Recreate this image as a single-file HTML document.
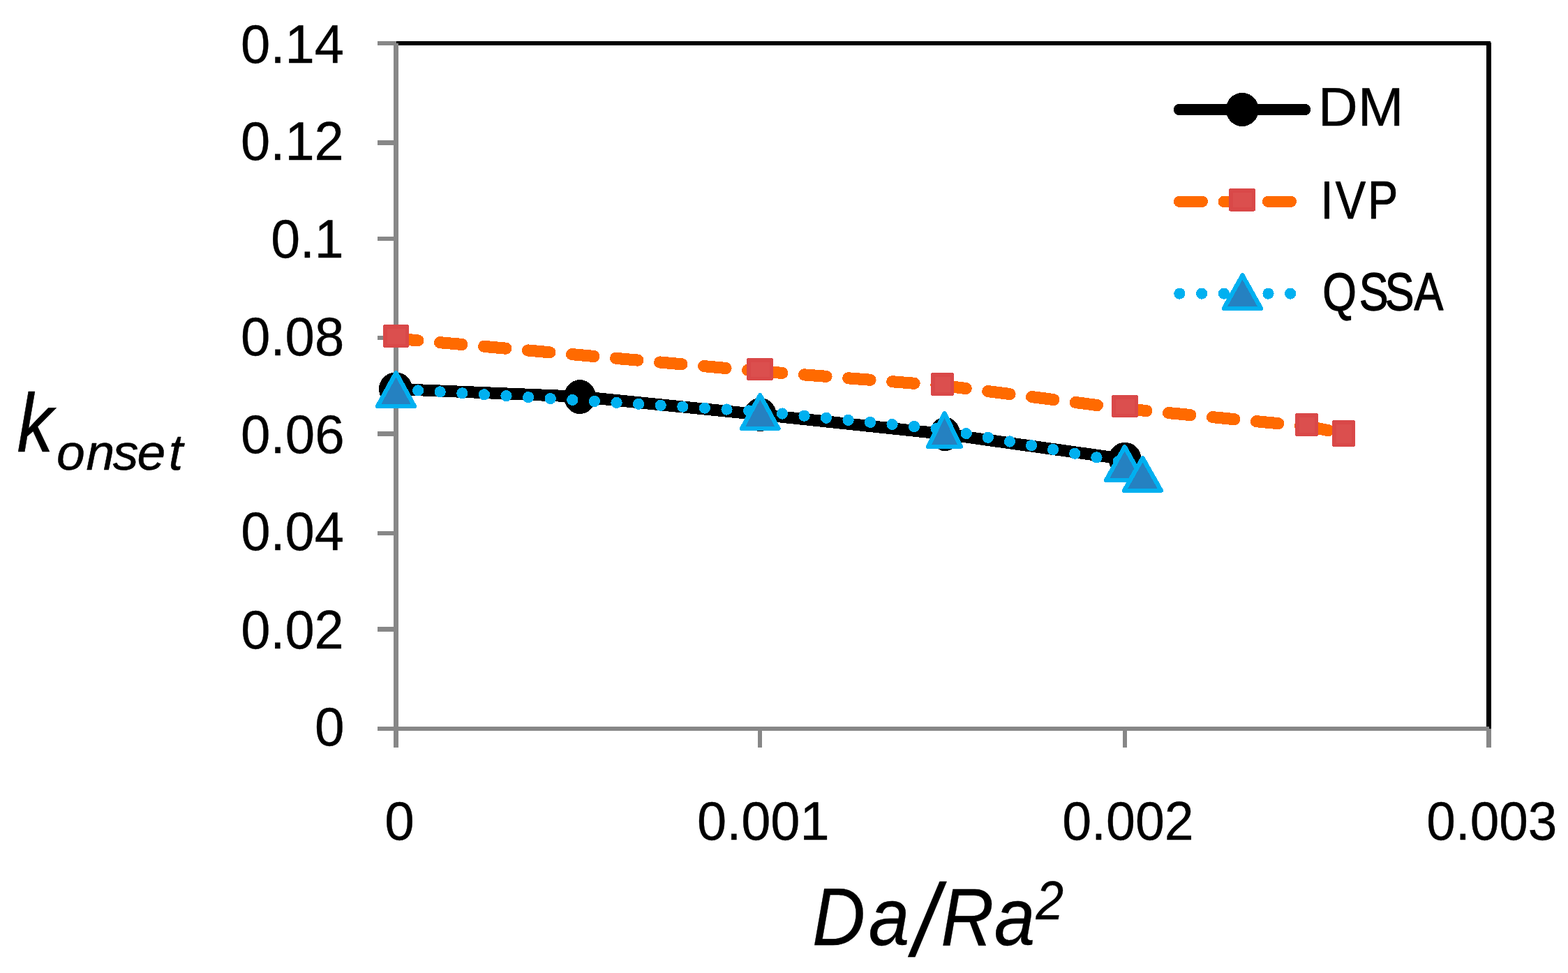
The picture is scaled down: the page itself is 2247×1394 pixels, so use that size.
<!DOCTYPE html>
<html lang="en"><head><meta charset="utf-8"><title>k_onset vs Da/Ra^2</title>
<style>html,body{margin:0;padding:0;background:#fff}body{width:2247px;height:1394px;overflow:hidden}svg{display:block}text{font-family:"Liberation Sans",Arial,sans-serif;fill:#000}</style>
</head><body>
<svg width="2247" height="1394" viewBox="0 0 2247 1394">
<rect width="2247" height="1394" fill="#fff"/>
<!-- plot frame, axes and tick marks -->
<g id="axes" shape-rendering="crispEdges">
<rect x="2130" y="61" width="7" height="983" fill="#000"/>
<rect x="541" y="59" width="27" height="6" fill="#878787"/>
<rect x="568" y="59" width="1568" height="6" fill="#000"/>
<rect x="564" y="62" width="7" height="1009" fill="#878787"/>
<rect x="541" y="1041" width="1593" height="6" fill="#878787"/>
<rect x="541" y="201" width="25" height="7" fill="#878787"/>
<rect x="541" y="339" width="25" height="6" fill="#878787"/>
<rect x="541" y="481" width="25" height="6" fill="#878787"/>
<rect x="541" y="618" width="25" height="7" fill="#878787"/>
<rect x="541" y="761" width="25" height="6" fill="#878787"/>
<rect x="541" y="898" width="25" height="7" fill="#878787"/>
<rect x="1086" y="1044" width="6" height="27" fill="#878787"/>
<rect x="1609" y="1044" width="6" height="27" fill="#878787"/>
<rect x="2130" y="1044" width="7" height="27" fill="#878787"/>
</g>
<!-- data series: DM (black circles), IVP (orange dashed, red squares), QSSA (blue dotted, triangles) -->
<g id="series" shape-rendering="crispEdges">
<line x1="567.5" y1="557.4" x2="831" y2="568.3" stroke="#000" stroke-width="17" stroke-linecap="round"/>
<line x1="831" y1="568.3" x2="1089.5" y2="594" stroke="#000" stroke-width="17" stroke-linecap="round"/>
<line x1="1089.5" y1="594" x2="1354" y2="621.8" stroke="#000" stroke-width="17" stroke-linecap="round"/>
<line x1="1354" y1="621.8" x2="1611.7" y2="657.8" stroke="#000" stroke-width="17" stroke-linecap="round"/>
<ellipse cx="567.1" cy="557.4" rx="24.1" ry="24" fill="#000"/>
<ellipse cx="831" cy="568.55" rx="22.9" ry="24.45" fill="#000"/>
<ellipse cx="1089.5" cy="594" rx="23" ry="24" fill="#000"/>
<ellipse cx="1354.15" cy="621.85" rx="21.85" ry="24.25" fill="#000"/>
<ellipse cx="1612.05" cy="657.8" rx="23.55" ry="24" fill="#000"/>
<line x1="567.5" y1="485" x2="1089.5" y2="531.9" stroke="#FF6A00" stroke-width="17.1" stroke-linecap="round" stroke-dasharray="31.5 31.77"/>
<line x1="1089.5" y1="531.9" x2="1353" y2="552.6" stroke="#FF6A00" stroke-width="17.1" stroke-linecap="round" stroke-dasharray="31.5 31.77"/>
<line x1="1353" y1="552.6" x2="1611.5" y2="585.5" stroke="#FF6A00" stroke-width="17.1" stroke-linecap="round" stroke-dasharray="31.5 31.77"/>
<line x1="1611.5" y1="585.5" x2="1872.5" y2="610.6" stroke="#FF6A00" stroke-width="17.1" stroke-linecap="round" stroke-dasharray="31.5 31.77"/>
<line x1="1872.5" y1="610.6" x2="1925.5" y2="621" stroke="#FF6A00" stroke-width="17.1" stroke-linecap="round" stroke-dasharray="31.5 31.77"/>
<rect x="549" y="465" width="37" height="33" rx="2.5" fill="#D94848"/>
<rect x="554.5" y="470.5" width="26" height="22" fill="#DB4F4E"/>
<rect x="1070" y="513" width="38" height="32" rx="2.5" fill="#D94848"/>
<rect x="1075.5" y="518.5" width="27" height="21" fill="#DB4F4E"/>
<rect x="1334" y="534" width="33" height="33" rx="2.5" fill="#D94848"/>
<rect x="1339.5" y="539.5" width="22" height="22" fill="#DB4F4E"/>
<rect x="1593" y="566" width="38" height="32" rx="2.5" fill="#D94848"/>
<rect x="1598.5" y="571.5" width="27" height="21" fill="#DB4F4E"/>
<rect x="1856" y="592" width="33" height="33" rx="2.5" fill="#D94848"/>
<rect x="1861.5" y="597.5" width="22" height="22" fill="#DB4F4E"/>
<rect x="1909" y="602" width="33" height="38" rx="2.5" fill="#D94848"/>
<rect x="1914.5" y="607.5" width="22" height="27" fill="#DB4F4E"/>
<line x1="567.5" y1="557.5" x2="1089.5" y2="589.5" stroke="#00B0F0" stroke-width="16.2" stroke-linecap="round" stroke-dasharray="0.01 31.65"/>
<line x1="1089.5" y1="589.5" x2="1353.5" y2="615.3" stroke="#00B0F0" stroke-width="16.2" stroke-linecap="round" stroke-dasharray="0.01 31.65"/>
<line x1="1353.5" y1="615.3" x2="1611.7" y2="662.8" stroke="#00B0F0" stroke-width="16.2" stroke-linecap="round" stroke-dasharray="0.01 31.65"/>
<line x1="1611.7" y1="662.8" x2="1637.5" y2="679" stroke="#00B0F0" stroke-width="16.2" stroke-linecap="round" stroke-dasharray="0.01 31.65"/>
<polygon points="567.5,534.025 593.875,581.875 541.125,581.875" fill="#2581C1" stroke="#00B0F0" stroke-width="6.25" stroke-linejoin="round"/>
<polygon points="1089.25,566.125 1115.38,613.875 1063.12,613.875" fill="#2581C1" stroke="#00B0F0" stroke-width="6.25" stroke-linejoin="round"/>
<polygon points="1353.5,592.025 1376.88,639.875 1330.12,639.875" fill="#2581C1" stroke="#00B0F0" stroke-width="6.25" stroke-linejoin="round"/>
<polygon points="1611.7,640.025 1638.28,687.875 1585.12,687.875" fill="#2581C1" stroke="#00B0F0" stroke-width="6.25" stroke-linejoin="round"/>
<polygon points="1637.45,656.125 1663.88,702.775 1611.03,702.775" fill="#2581C1" stroke="#00B0F0" stroke-width="6.25" stroke-linejoin="round"/>
</g>
<!-- legend keys -->
<g id="legend" shape-rendering="crispEdges">
<line x1="1690" y1="157" x2="1870" y2="157" stroke="#000" stroke-width="16.4" stroke-linecap="round"/>
<ellipse cx="1780.2" cy="156.95" rx="23.5" ry="24.05" fill="#000"/>
<line x1="1690" y1="288.9" x2="1870" y2="288.9" stroke="#FF6A00" stroke-width="16" stroke-linecap="round" stroke-dasharray="33 30.5"/>
<rect x="1761" y="270" width="38" height="32.6" rx="2.5" fill="#D94848"/>
<rect x="1766.5" y="275.5" width="27" height="21.6" fill="#DB4F4E"/>
<line x1="1690.4" y1="420.6" x2="1870" y2="420.6" stroke="#00B0F0" stroke-width="16.2" stroke-linecap="round" stroke-dasharray="0.01 31.75"/>
<polygon points="1780.45,394.325 1807.08,441.875 1753.83,441.875" fill="#2581C1" stroke="#00B0F0" stroke-width="6.25" stroke-linejoin="round"/>
</g>
<!-- tick labels, legend labels and axis titles -->
<g id="labels">
<text transform="scale(0.9778 1)" x="352.97" y="90.22" font-size="77.75" stroke="#000" stroke-width="0.389" stroke-linejoin="round">0.14</text>
<text transform="scale(0.9794 1)" x="352.39" y="229.23" font-size="77.46" stroke="#000" stroke-width="0.387" stroke-linejoin="round">0.12</text>
<text transform="scale(0.9689 1)" x="400.63" y="369.32" font-size="77.61" stroke="#000" stroke-width="0.388" stroke-linejoin="round">0.1</text>
<text transform="scale(0.9812 1)" x="351.73" y="509.32" font-size="77.61" stroke="#000" stroke-width="0.388" stroke-linejoin="round">0.08</text>
<text transform="scale(0.9833 1)" x="350.99" y="649.32" font-size="77.61" stroke="#000" stroke-width="0.388" stroke-linejoin="round">0.06</text>
<text transform="scale(0.9814 1)" x="351.69" y="788.23" font-size="77.46" stroke="#000" stroke-width="0.387" stroke-linejoin="round">0.04</text>
<text transform="scale(0.9777 1)" x="353.03" y="929.32" font-size="77.61" stroke="#000" stroke-width="0.388" stroke-linejoin="round">0.02</text>
<text transform="scale(0.9857 1)" x="457.57" y="1068.12" font-size="77.61" stroke="#000" stroke-width="0.388" stroke-linejoin="round">0</text>
<text transform="scale(0.9875 1)" x="558.11" y="1203.23" font-size="77.46" stroke="#000" stroke-width="0.387" stroke-linejoin="round">0</text>
<text transform="scale(0.9765 1)" x="1023.05" y="1203.22" font-size="77.61" stroke="#000" stroke-width="0.388" stroke-linejoin="round">0.001</text>
<text transform="scale(0.9707 1)" x="1568.13" y="1203.22" font-size="77.61" stroke="#000" stroke-width="0.388" stroke-linejoin="round">0.002</text>
<text transform="scale(0.9634 1)" x="2122.01" y="1203.22" font-size="77.61" stroke="#000" stroke-width="0.388" stroke-linejoin="round">0.003</text>
<text transform="scale(0.8748 1)" x="27.94" y="647" font-size="118.62" font-style="italic" stroke="#000" stroke-width="0.593" stroke-linejoin="round">k</text>
<text transform="scale(0.9192 1)" x="1615.03" y="1317.1" font-size="77.43" font-style="italic" stroke="#000" stroke-width="0.387" stroke-linejoin="round">2</text>
<text transform="scale(1.0201 1)" x="1851.68 1907.76" y="180" font-size="76.96" stroke="#000" stroke-width="0.462" stroke-linejoin="round">DM</text>
<text transform="scale(0.8591 1)" x="2203 2227.54 2281.42" y="312.62" font-size="75.57" stroke="#000" stroke-width="0.982" stroke-linejoin="round">IVP</text>
<text transform="scale(0.8344 1)" x="2271.53 2334.33 2378.61 2428.82" y="444.25" font-size="75.04" stroke="#000" stroke-width="1.351" stroke-linejoin="round">QSSA</text>
<text transform="scale(1.0063 1)" x="80.41 122.74 160.84 195.25 240.36" y="673.01" font-size="72.86" font-style="italic" stroke="#000" stroke-width="0.51" stroke-linejoin="round">onset</text>
<text transform="scale(0.9072 1)" x="1282.99 1371.96 1442.41 1486.24 1570.38" y="1354 1354 1368.81 1354 1354" font-size="116.09" font-style="italic" stroke="#000" stroke-width="0.348" stroke-linejoin="round">Da<tspan font-size="146.08">/</tspan>Ra</text>
</g>
</svg></body></html>
